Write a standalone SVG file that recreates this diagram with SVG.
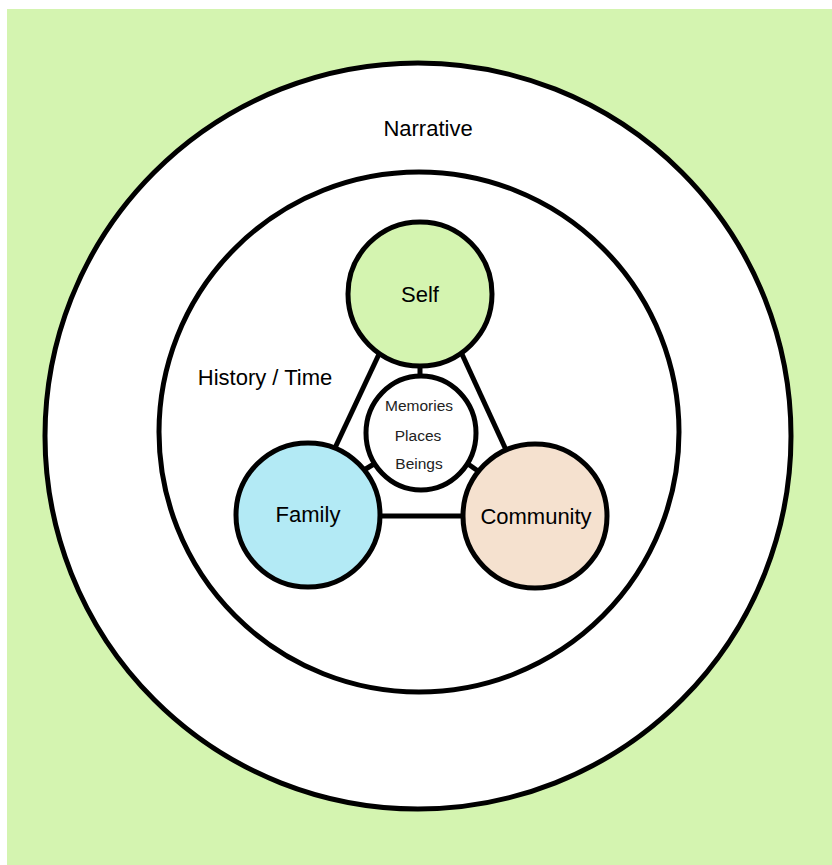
<svg xmlns="http://www.w3.org/2000/svg" width="832" height="865" viewBox="0 0 832 865">
<style>
.ring{fill:#ffffff;stroke:#000;stroke-width:5}
.node{stroke:#000;stroke-width:5}
.c{stroke:#000;stroke-width:5;fill:none}
text{font-family:"Liberation Sans",Arial,sans-serif;fill:#000;text-anchor:middle}
.big{font-size:22px}
.small{font-size:15.5px;fill:#222}
</style>
<rect x="0" y="0" width="832" height="865" fill="#ffffff"/>
<rect x="7" y="9" width="825" height="856" fill="#d4f4b0"/>
<g id="narrative">
<circle class="ring" cx="418" cy="436" r="373"/>
<text class="big" x="428" y="136">Narrative</text>
</g>
<g id="history">
<circle class="ring" cx="419" cy="432" r="260"/>
<text class="big" x="265" y="385">History / Time</text>
</g>
<g id="connectors">
<line class="c" x1="380" y1="352" x2="334" y2="450"/>
<line class="c" x1="461" y1="352" x2="507" y2="452"/>
<line class="c" x1="378" y1="516" x2="465" y2="516"/>
<line class="c" x1="420" y1="364" x2="420" y2="378"/>
<line class="c" x1="364" y1="470" x2="374" y2="464"/>
<line class="c" x1="468" y1="464" x2="478" y2="471"/>
</g>
<g id="center">
<ellipse class="ring" cx="421" cy="433" rx="55" ry="57"/>
<text class="small" x="419" y="411">Memories</text>
<text class="small" x="418" y="441">Places</text>
<text class="small" x="419" y="469">Beings</text>
</g>
<g id="self">
<circle class="node" cx="420" cy="294" r="72" fill="#d4f4b0"/>
<text class="big" x="420" y="302">Self</text>
</g>
<g id="family">
<circle class="node" cx="308" cy="515" r="72" fill="#b3eaf5"/>
<text class="big" x="308" y="522">Family</text>
</g>
<g id="community">
<circle class="node" cx="535" cy="516" r="72" fill="#f5e1cf"/>
<text class="big" x="536" y="524">Community</text>
</g>
</svg>
